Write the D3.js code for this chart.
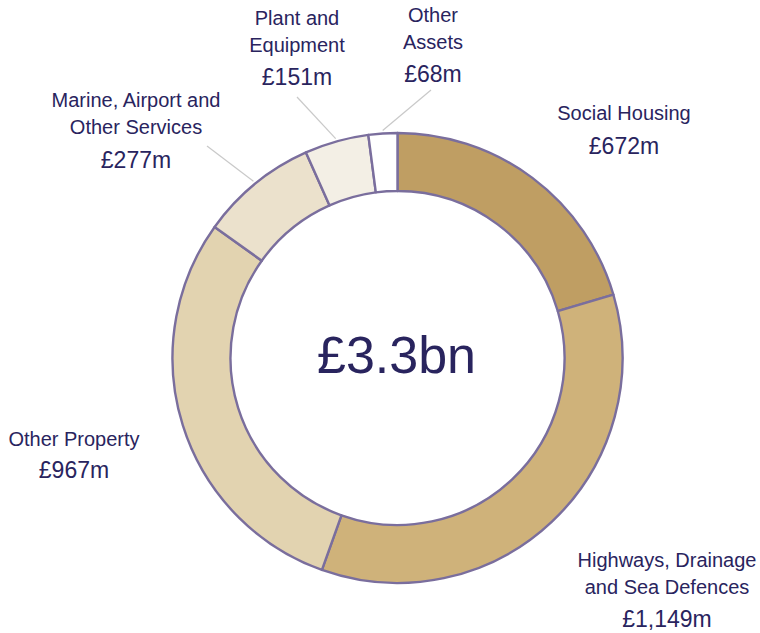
<!DOCTYPE html>
<html>
<head>
<meta charset="utf-8">
<script src="https://cdn.jsdelivr.net/npm/d3@7"></script>
<style>
  html, body { margin: 0; padding: 0; background: #ffffff; }
  svg { display: block; }
  text { font-family: "Liberation Sans", Arial, Helvetica, sans-serif; fill: #29245e; }
</style>
</head>
<body>
<svg id="chart" width="760" height="633"></svg>
<script>
// Capital asset categories and their values (£m)
const categories = [
  "Social Housing",
  "Highways, Drainage and Sea Defences",
  "Other Property",
  "Marine, Airport and Other Services",
  "Plant and Equipment",
  "Other Assets"
];
const values = [672, 1149, 967, 277, 151, 68];
const valueLabels = ["£672m", "£1,149m", "£967m", "£277m", "£151m", "£68m"];
const totalLabel = "£3.3bn";

// Label text split into lines
const labelLines = [
  ["Social Housing"],
  ["Highways, Drainage", "and Sea Defences"],
  ["Other Property"],
  ["Marine, Airport and", "Other Services"],
  ["Plant and", "Equipment"],
  ["Other", "Assets"]
];

const fills = ["#bf9e63", "#cfb27a", "#e2d3b0", "#ebe1cc", "#f3efe5", "#ffffff"];

// Label placement: x centre, first-line baseline, and optional leader end
const labelLayout = [
  { x: 624, y: 120, vy: 154 },
  { x: 667, y: 567, vy: 627 },
  { x: 74,  y: 446, vy: 478 },
  { x: 136, y: 107, vy: 168, lead: [207, 146] },
  { x: 297, y: 25,  vy: 85,  lead: [297, 97] },
  { x: 433, y: 22,  vy: 82,  lead: [431, 90] }
];

const cx = 397.5, cy = 358;
const outerR = 225, innerR = 167;

const svg = d3.select("#chart");
const g = svg.append("g").attr("transform", `translate(${cx},${cy})`);

const data = categories.map((c, i) => ({ name: c, value: values[i], i }));
const pie = d3.pie().value(d => d.value).sort(null);
const arcs = pie(data);
const arc = d3.arc().innerRadius(innerR).outerRadius(outerR);

g.selectAll("path.slice")
  .data(arcs)
  .join("path")
  .attr("class", "slice")
  .attr("d", arc)
  .attr("fill", d => fills[d.data.i])
  .attr("stroke", "#7a6e9d")
  .attr("stroke-width", 2.4)
  .attr("stroke-linejoin", "round");

// Leader lines from just outside the ring to the label
const leadR = 228;
arcs.forEach(a => {
  const L = labelLayout[a.data.i];
  if (!L.lead) return;
  const mid = (a.startAngle + a.endAngle) / 2;
  svg.append("line")
    .attr("x1", cx + leadR * Math.sin(mid))
    .attr("y1", cy - leadR * Math.cos(mid))
    .attr("x2", L.lead[0])
    .attr("y2", L.lead[1])
    .attr("stroke", "#c9c9c9")
    .attr("stroke-width", 1.2);
});

// Category labels and values
labelLines.forEach((lines, i) => {
  const L = labelLayout[i];
  lines.forEach((t, k) => {
    svg.append("text")
      .attr("x", L.x)
      .attr("y", L.y + k * 27)
      .attr("text-anchor", "middle")
      .attr("font-size", 20)
      .text(t);
  });
  svg.append("text")
    .attr("x", L.x)
    .attr("y", L.vy)
    .attr("text-anchor", "middle")
    .attr("font-size", 23)
    .text(valueLabels[i]);
});

// Total in the centre
svg.append("text")
  .attr("x", cx - 1)
  .attr("y", 373)
  .attr("text-anchor", "middle")
  .attr("font-size", 52)
  .text(totalLabel);
</script>
</body>
</html>
